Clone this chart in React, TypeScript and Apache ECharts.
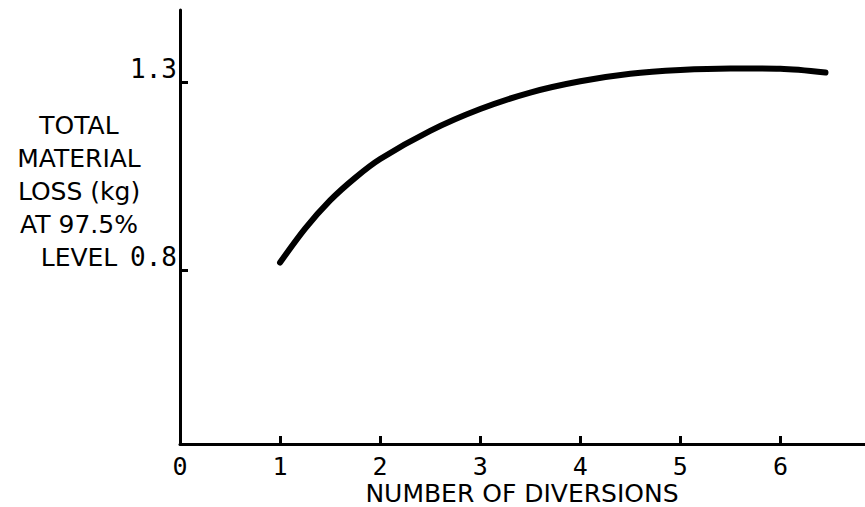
import React, { useEffect, useRef } from "react";
import * as echarts from "echarts";

const xValues = [1, 1.25, 1.5, 1.75, 2, 2.5, 3, 3.5, 4, 4.5, 5, 5.5, 6, 6.45];
const lossValues = [0.82, 0.91, 0.985, 1.045, 1.095, 1.17, 1.228, 1.272, 1.302, 1.322, 1.332, 1.336, 1.335, 1.325];
const xTickLabels = [0, 1, 2, 3, 4, 5, 6];
const yTickLabels = [0.8, 1.3];
const yAxisTitleLines = ["TOTAL", "MATERIAL", "LOSS (kg)", "AT 97.5%", "LEVEL"];
const xAxisTitle = "NUMBER OF DIVERSIONS";

export default function App() {
  const ref = useRef<HTMLDivElement>(null);
  useEffect(() => {
    document.body.style.margin = "0";
    const chart = echarts.init(ref.current!, null, { renderer: "svg" });
    const numFont = "DejaVu Sans Mono";
    chart.setOption({
      animation: false,
      backgroundColor: "#ffffff",
      grid: { left: 180, right: 0, top: 10, bottom: 63, containLabel: false, outerBoundsMode: "none" },
      xAxis: {
        type: "value",
        min: 0,
        max: 6.845,
        axisLine: { show: true, onZero: false, lineStyle: { color: "#000", width: 3 } },
        axisTick: {
          show: true,
          inside: true,
          length: 8,
          customValues: [1, 2, 3, 4, 5, 6],
          lineStyle: { color: "#000", width: 3 },
        },
        axisLabel: {
          customValues: xTickLabels,
          margin: 11,
          fontFamily: numFont,
          fontSize: 25,
          lineHeight: 22,
          color: "#000",
          formatter: (v: number) => String(v),
        },
        splitLine: { show: false },
      },
      yAxis: {
        type: "value",
        min: 0.3372,
        max: 1.4915,
        axisLine: { show: true, onZero: false, lineStyle: { color: "#000", width: 3 } },
        axisTick: {
          show: true,
          inside: true,
          length: 8,
          customValues: yTickLabels,
          lineStyle: { color: "#000", width: 3 },
        },
        axisLabel: {
          customValues: yTickLabels,
          margin: 3,
          fontFamily: numFont,
          fontSize: 26,
          color: "#000",
          verticalAlign: "bottom",
          formatter: (v: number) => v.toFixed(1),
        },
        splitLine: { show: false },
      },
      graphic: [
        {
          type: "text",
          x: 79,
          y: 109,
          style: {
            text: yAxisTitleLines.join("\n"),
            fontFamily: "DejaVu Sans",
            fontSize: 25,
            lineHeight: 33,
            textAlign: "center",
            textVerticalAlign: "top",
            fill: "#000",
          },
        },
        {
          type: "text",
          x: 522,
          y: 493,
          style: {
            text: xAxisTitle,
            fontFamily: "DejaVu Sans",
            fontSize: 25,
            lineHeight: 24,
            textAlign: "center",
            textVerticalAlign: "middle",
            fill: "#000",
          },
        },
      ],
      series: [
        {
          type: "line",
          data: xValues.map((x, i) => [x, lossValues[i]]),
          smooth: 0.3,
          showSymbol: false,
          symbol: "none",
          lineStyle: { color: "#000", width: 6, cap: "round" },
        },
      ],
    });
    return () => chart.dispose();
  }, []);
  return <div ref={ref} style={{ width: 865, height: 507 }} />;
}
